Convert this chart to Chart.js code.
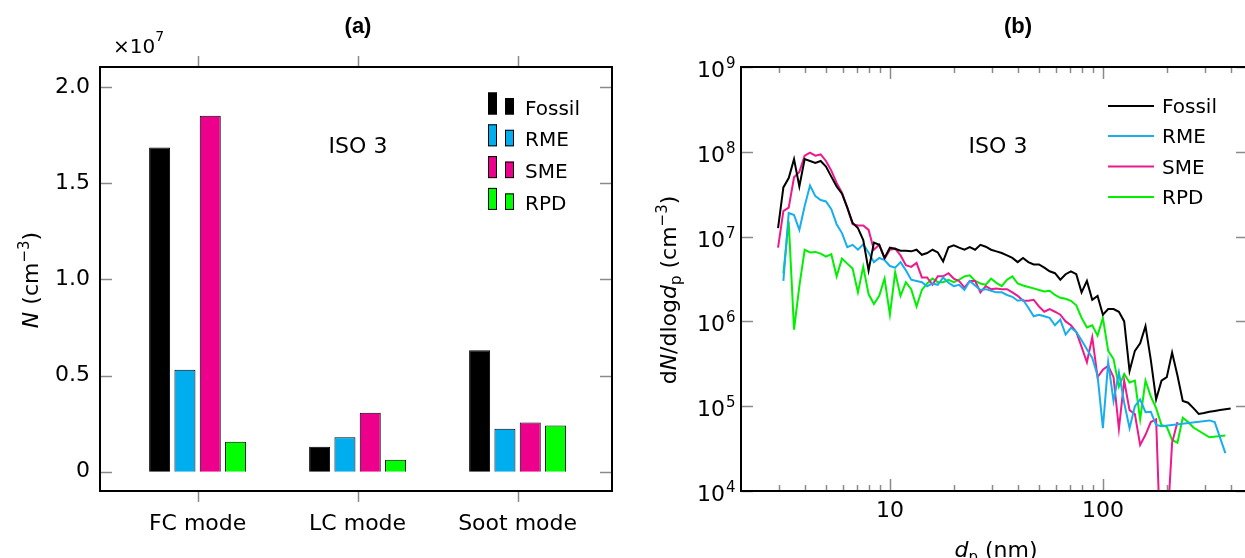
<!DOCTYPE html>
<html><head><meta charset="utf-8">
<script src="https://cdn.jsdelivr.net/npm/chart.js@4.4.1/dist/chart.umd.min.js"></script>
<style>
html,body{margin:0;padding:0;background:#fff;overflow:hidden;width:1245px;height:558px;position:relative;}
#ca{position:absolute;left:0;top:0;}
#cb{position:absolute;left:640px;top:0;}
</style></head><body>
<canvas id="ca" width="640" height="558"></canvas>
<canvas id="cb" width="620" height="558"></canvas>
<script>
// ---------- panel (a) data ----------
const modes = ['FC mode', 'LC mode', 'Soot mode'];
const barFossil = [1.685e7, 0.130e7, 0.631e7];
const barRME    = [0.530e7, 0.180e7, 0.223e7];
const barSME    = [1.851e7, 0.307e7, 0.256e7];
const barRPD    = [0.156e7, 0.062e7, 0.241e7];
const yTicksA = [0, 0.5e7, 1.0e7, 1.5e7, 2.0e7];
const yLabelsA = ['0', '0.5', '1.0', '1.5', '2.0'];

// ---------- panel (b) data ----------
const dp = [2.985,3.162,3.350,3.548,3.758,3.981,4.217,4.467,4.732,5.012,
5.309,5.623,5.957,6.310,6.683,7.079,7.499,7.943,8.414,8.913,
9.441,10.00,10.59,11.22,11.89,12.59,13.34,14.13,14.96,15.85,
16.79,17.78,18.84,19.95,21.13,22.39,23.71,25.12,26.61,28.18,
29.85,31.62,33.50,35.48,37.58,39.81,42.17,44.67,47.32,50.12,
53.09,56.23,59.57,63.10,66.83,70.79,74.99,79.43,84.14,89.13,
94.41,100.0,105.9,112.2,118.9,125.9,133.4,141.3,149.6,158.5,
167.9,177.8,188.4,199.5,211.3,223.9,237.1,251.2,266.1,281.8,
298.5,316.2,335.0,354.8,375.8,398.1];
const fossil = [1.26e7,3.8e7,4.9e7,8.2e7,3.9e7,8.2e7,7.8e7,7.4e7,7.8e7,6.7e7,
5.1e7,3.9e7,3.2e7,2.2e7,1.45e7,1.26e7,9.1e6,4.0e6,8.5e6,8.0e6,
5.6e6,7.4e6,7.2e6,6.8e6,6.8e6,6.7e6,7.0e6,6.1e6,6.4e6,7.0e6,
6.5e6,5.1e6,7.5e6,7.9e6,7.4e6,7.0e6,7.5e6,7.0e6,8.0e6,7.6e6,
7.0e6,6.7e6,6.4e6,6.0e6,5.6e6,5.0e6,5.6e6,5.0e6,4.7e6,4.7e6,
4.3e6,3.9e6,3.7e6,3.1e6,3.6e6,3.9e6,3.6e6,2.2e6,3.0e6,1.8e6,
2.0e6,1.2e6,1.4e6,1.4e6,1.3e6,1.0e6,2.6e5,4.5e5,5.5e5,8.8e5,
3.5e5,1.2e5,2.0e5,2.2e5,4.3e5,2.3e5,1.15e5,1.1e5,9.5e4,8.1e4,
8.3e4,8.6e4,8.8e4,9.0e4,9.2e4,9.4e4];
const rme = [null,3.0e6,1.9e7,1.8e7,1.2e7,2.3e7,4.0e7,3.0e7,2.7e7,2.6e7,
2.1e7,1.4e7,1.1e7,7.5e6,8.0e6,7.0e6,8.1e6,6.5e6,5.0e6,5.6e6,
5.3e6,4.5e6,4.3e6,5.0e6,4.0e6,3.1e6,3.0e6,2.9e6,2.6e6,2.8e6,
2.7e6,3.3e6,2.85e6,2.6e6,2.7e6,2.35e6,3.0e6,2.65e6,2.35e6,2.4e6,
2.3e6,2.2e6,2.2e6,2.05e6,1.95e6,1.75e6,1.8e6,1.45e6,1.15e6,1.2e6,
1.15e6,1.1e6,9.0e5,1.05e6,7.0e5,8.4e5,7.5e5,6.0e5,4.7e5,3.7e5,
2.3e5,5.5e4,3.3e5,1.15e5,2.5e5,1.1e5,5.5e4,1.0e5,1.2e5,8.5e4,
8.6e4,6.0e4,5.8e4,null,null,null,null,null,null,null,
null,6.8e4,6.5e4,null,2.8e4,null];
const sme = [7.4e6,2.0e7,2.2e7,5.0e7,5.8e7,9.0e7,9.8e7,9.0e7,9.3e7,7.8e7,
6.0e7,4.3e7,3.3e7,2.2e7,1.4e7,1.35e7,1.35e7,1.2e7,7.0e6,8.0e6,
5.5e6,7.0e6,7.2e6,6.0e6,4.6e6,4.4e6,4.9e6,3.3e6,3.3e6,2.7e6,
3.4e6,3.4e6,3.7e6,3.2e6,3.0e6,2.5e6,3.0e6,3.0e6,2.2e6,2.6e6,
2.4e6,2.45e6,2.4e6,2.4e6,2.2e6,2.0e6,1.75e6,1.75e6,1.8e6,1.5e6,
1.3e6,1.4e6,1.3e6,1.2e6,1.0e6,9.0e5,7.5e5,5.0e5,3.3e5,6.5e5,
2.2e5,2.7e5,3.0e5,2.2e5,5.4e4,2.0e5,9.0e4,8.1e4,3.5e4,4.6e4,
6.5e4,7.0e4,1.0e3,3.0e3,3.7e4,6.5e4,null,null,null,null,
null,null,null,null,null,null];
const rpd = [null,3.7e6,1.5e7,8.0e5,2.6e6,7.0e6,6.5e6,6.6e6,6.3e6,5.8e6,
6.2e6,3.4e6,5.5e6,4.8e6,4.2e6,2.2e6,4.4e6,2.1e6,1.6e6,2.0e6,
3.2e6,1.2e6,3.8e6,2.0e6,2.9e6,2.4e6,1.5e6,2.35e6,2.8e6,3.2e6,
2.9e6,2.9e6,3.1e6,2.9e6,3.1e6,3.4e6,3.5e6,3.0e6,2.8e6,2.7e6,
3.2e6,2.85e6,2.6e6,3.1e6,3.4e6,2.8e6,2.65e6,2.55e6,2.45e6,2.35e6,
2.25e6,2.3e6,2.05e6,1.9e6,1.85e6,1.75e6,1.55e6,1.1e6,8.5e5,9.0e5,
6.8e5,1.1e6,4.5e5,3.6e5,1.7e5,2.4e5,1.9e5,2.0e5,7.0e4,2.0e5,
1.3e5,9.5e4,6.0e4,5.7e4,4.0e4,3.7e4,7.3e4,6.5e4,5.6e4,null,
null,4.3e4,null,null,4.5e4,null];
const xTicksB = [3,4,5,6,7,8,9,10,20,30,40,50,60,70,80,90,100,200,300,400];
const xMajorB = [10, 100];
const yDecadesB = [4,5,6,7,8,9];

const seriesNames = ['Fossil','RME','SME','RPD'];
const barColors  = ['#000000','#00AEEF','#EC008C','#00FF00'];
const lineColors = ['#000000','#18AEEC','#EC1A8C','#00F000'];

const FONT = '"DejaVu Sans"';
Chart.defaults.font.family = FONT;
Chart.defaults.color = '#000';

function runs(ctx, parts, x, y, align) {
  let w = 0;
  parts.forEach(p => { ctx.font = (p.st || '') + ' ' + p.sz + 'px ' + FONT; p.w = ctx.measureText(p.t).width; w += p.w; });
  let cx = align === 'center' ? x - w / 2 : (align === 'right' ? x - w : x);
  ctx.textAlign = 'left'; ctx.textBaseline = 'alphabetic';
  parts.forEach(p => { ctx.font = (p.st || '') + ' ' + p.sz + 'px ' + FONT; ctx.fillText(p.t, cx, y + (p.dy || 0)); cx += p.w; });
}
function txt(ctx, t, x, y, sz, align, st, fam) {
  ctx.font = (st || '') + ' ' + sz + 'px ' + (fam || FONT);
  ctx.textAlign = align; ctx.textBaseline = 'alphabetic';
  ctx.fillText(t, x, y);
}

// ---------- panel (a) ----------
const barSets = [barFossil, barRME, barSME, barRPD];
const decoA = {
  id: 'decoA',
  afterDraw(chart) {
    const { ctx, chartArea: a, scales: { x, y } } = chart;
    ctx.save();
    ctx.strokeStyle = '#8a8a8a'; ctx.lineWidth = 1.5;
    ctx.beginPath();
    yTicksA.forEach(v => {
      const py = Math.round(y.getPixelForValue(v)) + 0.5;
      ctx.moveTo(a.left, py); ctx.lineTo(a.left + 12, py);
      ctx.moveTo(a.right, py); ctx.lineTo(a.right - 12, py);
    });
    modes.forEach((m, i) => {
      const px = Math.round(x.getPixelForValue(i)) + 0.5;
      ctx.moveTo(px, a.top); ctx.lineTo(px, a.top - 11);
      ctx.moveTo(px, a.bottom); ctx.lineTo(px, a.bottom + 11);
    });
    ctx.stroke();
    ctx.strokeStyle = '#000'; ctx.lineWidth = 2;
    ctx.strokeRect(a.left, a.top, a.right - a.left, a.bottom - a.top);
    ctx.fillStyle = '#000';
    txt(ctx, '(a)', 358, 33, 22, 'center', 'bold', '"Liberation Sans"');
    runs(ctx, [{ t: '\u00d710', sz: 20 }, { t: '7', sz: 14, dy: -12 }], 113, 53, 'left');
    txt(ctx, 'ISO 3', 358, 153, 22, 'center');
    // legend
    seriesNames.forEach((n, k) => {
      const b = 114.5 + 31.8 * k;
      ctx.fillStyle = barColors[k]; ctx.strokeStyle = '#000'; ctx.lineWidth = 1;
      ctx.fillRect(488, b - 22, 9, 22); ctx.strokeRect(488.5, b - 21.5, 8, 21);
      ctx.fillRect(505, b - 16.5, 9, 16.5); ctx.strokeRect(505.5, b - 16, 8, 15.5);
      ctx.fillStyle = '#000';
      txt(ctx, n, 525, b, 20, 'left');
    });
    // y label
    ctx.save();
    ctx.translate(38, 280); ctx.rotate(-Math.PI / 2);
    runs(ctx, [{ t: 'N', sz: 22, st: 'italic' }, { t: ' (cm', sz: 22 }, { t: '\u22123', sz: 15, dy: -9 }, { t: ')', sz: 22 }], 0, 0, 'center');
    ctx.restore();
    ctx.restore();
  }
};

new Chart(document.getElementById('ca'), {
  type: 'bar',
  data: {
    datasets: barSets.map((s, k) => ({
      label: seriesNames[k],
      data: s.map((v, i) => ({ x: i, y: v })),
      backgroundColor: barColors[k], borderColor: '#000', borderWidth: 1,
      categoryPercentage: 0.633, barPercentage: 0.83
    }))
  },
  options: {
    responsive: false, animation: false, devicePixelRatio: 1,
    layout: { padding: { top: 67, right: 28, left: 0, bottom: 0 } },
    plugins: { legend: { display: false }, tooltip: { enabled: false }, title: { display: false } },
    scales: {
      x: {
        type: 'linear', min: -0.61, max: 2.59, offset: false,
        afterBuildTicks: s => { s.ticks = modes.map((m, i) => ({ value: i })); },
        afterFit: s => { s.height = 67; },
        grid: { display: false, drawTicks: false }, border: { display: false },
        ticks: { callback: v => modes[v], font: { size: 22 }, color: '#000', padding: 20, maxRotation: 0, autoSkip: false }
      },
      y: {
        type: 'linear', min: -0.1e7, max: 2.104e7,
        afterBuildTicks: s => { s.ticks = yTicksA.map(v => ({ value: v })); },
        afterFit: s => { s.width = 100; },
        grid: { display: false, drawTicks: false }, border: { display: false },
        ticks: { callback: (v, i) => yLabelsA[i], font: { size: 22 }, color: '#000', padding: 10 }
      }
    }
  },
  plugins: [decoA]
});

// ---------- panel (b) ----------
const lineSets = [fossil, rme, sme, rpd];
const decoB = {
  id: 'decoB',
  afterDraw(chart) {
    const { ctx, chartArea: a, scales: { x, y } } = chart;
    ctx.save();
    ctx.strokeStyle = '#8a8a8a'; ctx.lineWidth = 1.5;
    ctx.beginPath();
    xTicksB.forEach(v => {
      const px = Math.round(x.getPixelForValue(v)) + 0.5;
      const L = xMajorB.includes(v) ? 12 : 6;
      ctx.moveTo(px, a.bottom); ctx.lineTo(px, a.bottom - L);
      ctx.moveTo(px, a.top); ctx.lineTo(px, a.top + L);
    });
    yDecadesB.forEach(k => {
      const py = Math.round(y.getPixelForValue(Math.pow(10, k))) + 0.5;
      ctx.moveTo(a.left, py); ctx.lineTo(a.left + 12, py);
      ctx.moveTo(a.right, py); ctx.lineTo(a.right - 12, py);
    });
    ctx.stroke();
    ctx.strokeStyle = '#000'; ctx.lineWidth = 2;
    ctx.strokeRect(a.left, a.top, a.right - a.left, a.bottom - a.top);
    ctx.fillStyle = '#000';
    yDecadesB.forEach(k => {
      const py = y.getPixelForValue(Math.pow(10, k));
      txt(ctx, '10', 85, py + 10, 22, 'right');
      txt(ctx, String(k), 86, py + 1, 15, 'left');
    });
    txt(ctx, '(b)', 378, 33, 22, 'center', 'bold', '"Liberation Sans"');
    txt(ctx, 'ISO 3', 358, 153, 22, 'center');
    const ly = [106, 136, 166.5, 197];
    seriesNames.forEach((n, k) => {
      ctx.strokeStyle = lineColors[k]; ctx.lineWidth = 2;
      ctx.beginPath(); ctx.moveTo(468, ly[k]); ctx.lineTo(514, ly[k]); ctx.stroke();
      ctx.fillStyle = '#000';
      txt(ctx, n, 522, ly[k] + 7, 20, 'left');
    });
    runs(ctx, [{ t: 'd', sz: 22, st: 'italic' }, { t: 'p', sz: 15, dy: 5 }, { t: ' (nm)', sz: 22 }], 356, 557, 'center');
    ctx.save();
    ctx.translate(36, 290); ctx.rotate(-Math.PI / 2);
    runs(ctx, [{ t: 'd', sz: 22 }, { t: 'N', sz: 22, st: 'italic' }, { t: '/dlog', sz: 22 }, { t: 'd', sz: 22, st: 'italic' },
      { t: 'p', sz: 15, dy: 5 }, { t: ' (cm', sz: 22 }, { t: '\u22123', sz: 15, dy: -9 }, { t: ')', sz: 22 }], 0, 0, 'center');
    ctx.restore();
    ctx.restore();
  }
};

new Chart(document.getElementById('cb'), {
  type: 'line',
  data: {
    datasets: lineSets.map((s, k) => ({
      label: seriesNames[k],
      data: dp.map((d, i) => ({ x: d, y: s[i] })).filter(p => p.y !== null),
      borderColor: lineColors[k], borderWidth: 2, pointRadius: 0, tension: 0, fill: false
    }))
  },
  options: {
    responsive: false, animation: false, devicePixelRatio: 1,
    layout: { padding: { top: 67, right: 12, left: 0, bottom: 0 } },
    plugins: { legend: { display: false }, tooltip: { enabled: false }, title: { display: false } },
    scales: {
      x: {
        type: 'logarithmic', min: 2, max: 480,
        afterBuildTicks: s => { s.ticks = xTicksB.map(v => ({ value: v })); },
        afterFit: s => { s.height = 67; },
        grid: { display: false, drawTicks: false }, border: { display: false },
        ticks: { callback: v => (xMajorB.includes(v) ? String(v) : ''), font: { size: 22 }, color: '#000', padding: 7, maxRotation: 0, autoSkip: false }
      },
      y: {
        type: 'logarithmic', min: 1e4, max: 1e9,
        afterBuildTicks: s => { s.ticks = yDecadesB.map(k => ({ value: Math.pow(10, k) })); },
        afterFit: s => { s.width = 101; },
        grid: { display: false, drawTicks: false }, border: { display: false },
        ticks: { display: false }
      }
    }
  },
  plugins: [decoB]
});
</script>
</body></html>
